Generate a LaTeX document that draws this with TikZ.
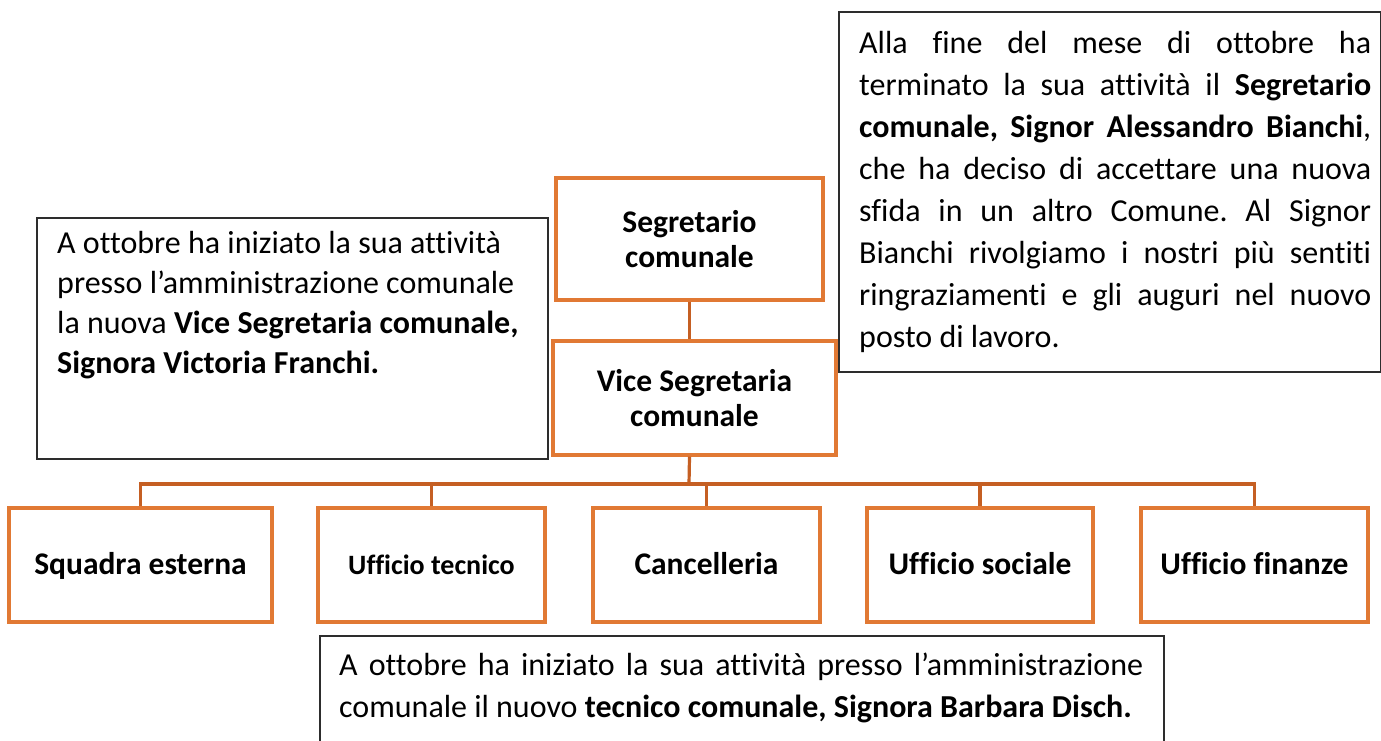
\documentclass[tikz,border=0pt]{standalone}
\usepackage{fontspec}
\setmainfont{Carlito}[Ligatures=NoCommon]
\definecolor{obox}{RGB}{225,121,52}
\definecolor{oline}{RGB}{197,95,35}
\definecolor{tbox}{RGB}{45,45,45}
\newcommand\jline[2]{\makebox[#1][s]{\frenchspacing\spaceskip=7.2pt plus 1fil\relax #2}}
\begin{document}
\begin{tikzpicture}[x=1pt,y=-1pt,
  orgbox/.style={draw=obox,line width=3.2pt,fill=white,inner sep=0pt,align=center,font=\fontsize{31.5}{35}\selectfont\bfseries},
  unitbox/.style={orgbox,minimum height=114pt,text height=23pt,text depth=5pt},
  conn/.style={draw=oline,line width=3.2pt},
  textbox/.style={draw=tbox,line width=1.5pt,fill=white,inner sep=0pt,anchor=north west},
  para/.style={inner sep=0pt,anchor=base west,align=justify,font=\fontsize{32}{42}\selectfont}
]
\useasboundingbox (0,0) rectangle (1381,740);
\clip (0,0) rectangle (1381,740);
\fill[white] (0,0) rectangle (1381,740);

% text boxes
\node[textbox,minimum width=542pt,minimum height=360pt] (rbox) at (838,11) {};
\node[textbox,minimum width=511pt,minimum height=241pt] (lbox) at (36,217) {};
\node[textbox,minimum width=844pt,minimum height=140pt] (bbox) at (319,635) {};

% org chart boxes
\node[orgbox,minimum width=267pt,minimum height=122pt] (seg) at (689.5,239) {Segretario\\comunale};
\node[orgbox,minimum width=283pt,minimum height=114pt] (vice) at (694.5,398) {Vice Segretaria\\comunale};
\node[unitbox,minimum width=263pt] (sq) at (140.5,565) {Squadra esterna};
\node[unitbox,minimum width=227pt,font=\fontsize{28}{32}\selectfont\bfseries] (ut) at (431.5,565) {Ufficio tecnico};
\node[unitbox,minimum width=227pt] (ca) at (706.5,565) {Cancelleria};
\node[unitbox,minimum width=226pt] (us) at (980,565) {Ufficio sociale};
\node[unitbox,minimum width=227pt] (uf) at (1254.5,565) {Ufficio finanze};

% connectors
\coordinate (bus) at (689,484);
\draw[conn] (seg.south) -- (seg.south |- vice.north);
\draw[conn] (seg.south |- vice.south) -- (bus);
\foreach \n in {sq,ut,ca,us,uf} \draw[conn] (bus) -| (\n.north);

% paragraphs
\node[para,text width=512pt] (rtext) at (859,53) {%
\jline{512pt}{Alla fine del mese di ottobre ha}\\
\jline{512pt}{terminato la sua attività il \textbf{Segretario}}\\
\jline{512pt}{\textbf{comunale, Signor Alessandro Bianchi},}\\
\jline{512pt}{che ha deciso di accettare una nuova}\\
\jline{512pt}{sfida in un altro Comune. Al Signor}\\
\jline{512pt}{Bianchi rivolgiamo i nostri più sentiti}\\
\jline{512pt}{ringraziamenti e gli auguri nel nuovo}\\
posto di lavoro.};

\node[para,text width=488pt,font=\fontsize{32}{40}\selectfont] (ltext) at (57,253) {%
A ottobre ha iniziato la sua attività\\
presso l’amministrazione comunale\\
la nuova \textbf{Vice Segretaria comunale,}\\
\textbf{Signora Victoria Franchi.}};

\node[para,text width=822pt] (btext) at (339,675) {%
\jline{804pt}{A ottobre ha iniziato la sua attività presso l’amministrazione}\\
comunale il nuovo \textbf{tecnico comunale, Signora Barbara Disch.}};
\end{tikzpicture}
\end{document}
